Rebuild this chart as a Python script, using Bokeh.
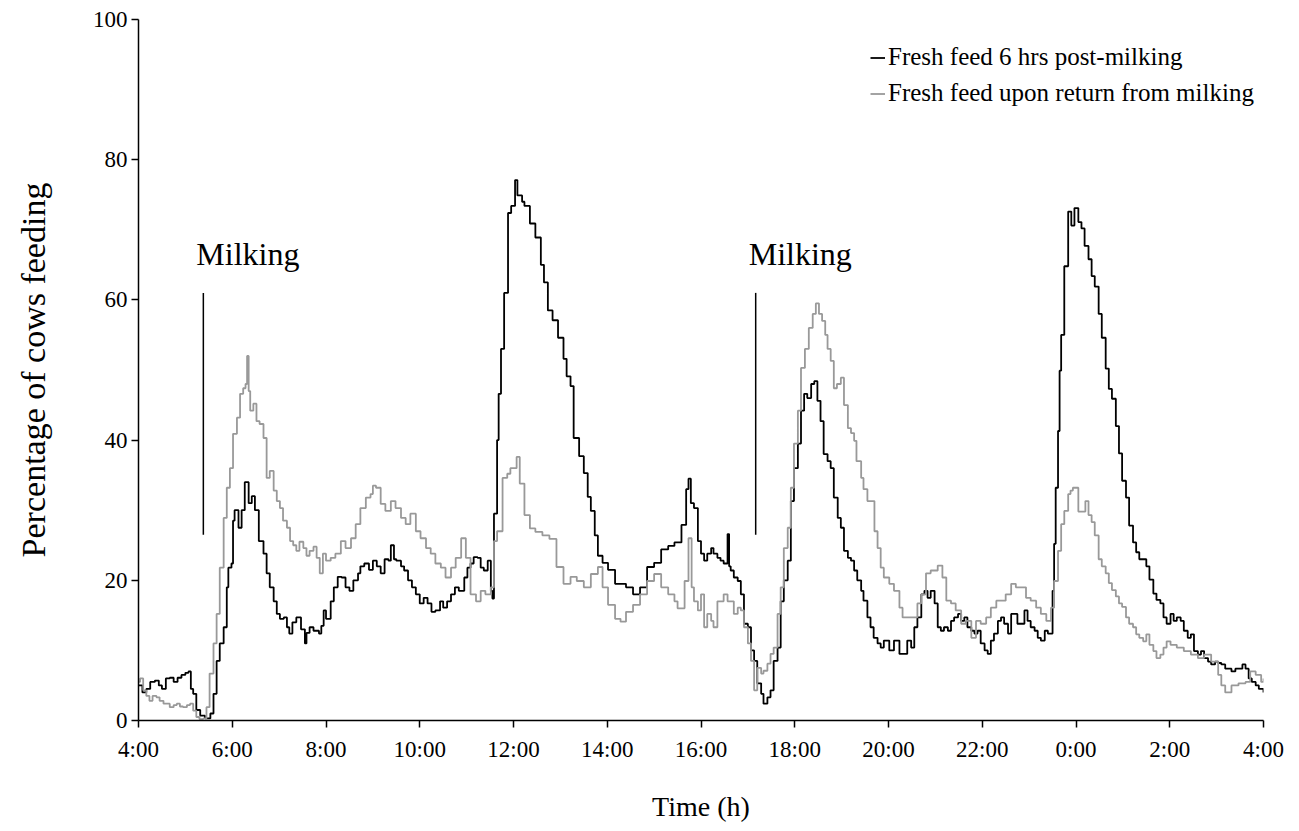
from bokeh.plotting import figure
from bokeh.models import Range1d, FixedTicker, Legend, LegendItem
from bokeh.embed import file_html
from bokeh.resources import INLINE
from bokeh.core.properties import value

FONT = "Liberation Serif"

# minutes after 4:00, percentage of cows feeding
black_min = [0, 5, 10, 15, 21, 26, 30, 35, 40, 45, 50, 55, 60, 64, 67, 70, 74, 79, 85, 90, 92, 96, 100, 104, 109, 113, 115, 119, 121, 123, 128, 132, 136, 141, 145, 149, 154, 160, 164, 168, 173, 177, 181, 186, 190, 193, 197, 202, 208, 213, 215, 219, 224, 231, 234, 237, 240, 246, 250, 255, 260, 265, 270, 275, 281, 284, 289, 295, 300, 305, 310, 315, 320, 323, 327, 330, 336, 340, 345, 350, 355, 360, 365, 370, 375, 380, 386, 390, 395, 400, 405, 410, 417, 421, 425, 429, 434, 438, 442, 447, 451, 453, 455, 459, 461, 464, 468, 473, 477, 482, 485, 491, 494, 501, 508, 515, 519, 524, 530, 537, 544, 548, 553, 557, 564, 570, 575, 579, 584, 588, 594, 601, 610, 617, 624, 633, 642, 651, 660, 669, 678, 686, 695, 701, 704, 707, 711, 716, 720, 724, 728, 733, 736, 741, 745, 749, 754, 756, 758, 762, 767, 771, 775, 780, 784, 788, 792, 797, 800, 805, 809, 813, 818, 822, 826, 831, 835, 839, 844, 848, 852, 856, 861, 865, 869, 873, 877, 882, 886, 890, 895, 899, 903, 908, 912, 916, 920, 925, 928, 933, 937, 941, 946, 950, 954, 961, 967, 974, 980, 984, 989, 993, 997, 1002, 1006, 1010, 1014, 1019, 1023, 1027, 1031, 1036, 1040, 1044, 1049, 1053, 1057, 1061, 1066, 1070, 1074, 1078, 1083, 1087, 1091, 1095, 1100, 1104, 1108, 1113, 1117, 1121, 1125, 1130, 1134, 1138, 1142, 1147, 1151, 1155, 1160, 1164, 1168, 1170, 1172, 1174, 1177, 1179, 1181, 1185, 1190, 1194, 1198, 1203, 1207, 1211, 1216, 1220, 1224, 1229, 1233, 1238, 1242, 1246, 1251, 1255, 1259, 1264, 1268, 1273, 1277, 1281, 1286, 1290, 1294, 1299, 1303, 1308, 1312, 1316, 1321, 1325, 1329, 1334, 1338, 1343, 1347, 1351, 1356, 1360, 1364, 1369, 1373, 1378, 1382, 1386, 1391, 1395, 1399, 1404, 1408, 1413, 1417, 1421, 1425, 1430, 1434, 1440]
black_pct = [5, 4, 4.5, 5.5, 5.7, 5, 4.5, 6, 6.1, 5.5, 6.1, 6.5, 6.8, 7, 4.5, 3.8, 1.5, 0.7, 0.3, 0.3, 1, 3.8, 8.5, 11, 13.3, 19, 21.8, 22.4, 28.5, 30, 27.5, 30, 34, 31, 32, 30, 25.6, 23.8, 21, 19, 17, 15.2, 14.5, 14.7, 13.3, 12.4, 14, 14.7, 13, 11, 12.5, 13.3, 12.8, 12.4, 13.5, 15.7, 14.5, 17, 19, 20.5, 20.4, 19, 18.5, 20, 21, 22, 22.4, 21.5, 22.8, 22, 21, 23, 22.8, 25, 23, 22.8, 22, 21.4, 20, 19, 18, 16.7, 17.5, 16.7, 15.5, 15.7, 17, 16.1, 17, 18, 19, 18.5, 20.4, 21.8, 22.4, 23.3, 23.2, 21.8, 21.4, 22.8, 18.5, 17.4, 29.5, 40, 46.6, 53, 61, 72.4, 73.4, 77.1, 74.9, 74, 73.4, 70.9, 68.9, 65, 62.5, 58.5, 57.1, 54.6, 51.6, 49.1, 47.7, 40.3, 37.7, 35.3, 31.9, 29.9, 26.4, 23.5, 22.5, 21.5, 19.5, 19.5, 19, 18, 19, 21.9, 22.5, 24.4, 24.9, 25.4, 27.9, 33, 34.5, 31, 30.3, 25.6, 23.8, 22.8, 23.8, 24.6, 23.8, 23.2, 22.8, 22.4, 26.6, 22, 21.4, 20.4, 19.9, 18, 13.8, 13.3, 10, 8.5, 5.3, 3.8, 2.4, 3.3, 4.3, 8.5, 10.4, 17, 20, 22.8, 31.3, 36, 39.5, 44.2, 46.6, 46, 48, 48.4, 45.6, 42.7, 38, 37, 36, 31.8, 28.9, 27.5, 24.2, 23.2, 22.8, 21.4, 20, 18.5, 17.1, 14.7, 13.3, 11.8, 11, 10.4, 11.4, 10, 11.4, 9.5, 9.5, 11.4, 10.4, 13.3, 14.7, 18, 18.5, 17.5, 18.5, 16.7, 13.3, 12.8, 13.3, 12.8, 14.2, 14.7, 15.2, 14.2, 14.7, 13.3, 12.8, 12.4, 12.8, 11, 10, 9.5, 11.4, 12.4, 14.2, 14.7, 13.8, 12.4, 15.2, 15.2, 13.8, 13.8, 15.7, 14.2, 13.3, 12.8, 11.8, 11.4, 12.8, 12.4, 12.4, 18.5, 25.2, 33.2, 41.3, 49.9, 55, 64.8, 72.6, 70.6, 73.1, 71.1, 70.2, 67.7, 65.8, 63.4, 61.9, 58, 54.6, 50.2, 47.3, 45.9, 42, 38.1, 34.2, 31.8, 27.8, 25.4, 24, 23, 23, 22, 20.1, 18.1, 17.2, 16.7, 14.7, 13.8, 15.2, 14.2, 14.7, 14.2, 12.8, 11.8, 12.3, 9.9, 9.4, 9.9, 8.9, 8.4, 8, 8.4, 8.2, 8, 7.4, 7.4, 7, 7.4, 7.4, 8, 7.4, 6, 5.5, 5, 4.5, 4]

gray_min = [0, 2, 6, 10, 14, 18, 23, 27, 32, 36, 40, 45, 49, 53, 57, 62, 66, 70, 74, 78, 83, 87, 91, 96, 100, 104, 109, 113, 117, 121, 126, 130, 134, 137, 139, 141, 143, 147, 151, 155, 160, 164, 168, 173, 177, 181, 185, 190, 194, 198, 202, 206, 211, 215, 219, 224, 228, 232, 236, 240, 246, 252, 259, 265, 272, 278, 284, 291, 297, 300, 304, 310, 316, 323, 329, 336, 342, 348, 355, 361, 368, 374, 380, 387, 393, 400, 406, 413, 419, 425, 432, 438, 444, 451, 455, 459, 466, 472, 476, 484, 488, 494, 501, 508, 517, 526, 535, 544, 553, 561, 570, 579, 588, 594, 601, 610, 617, 624, 633, 642, 651, 660, 669, 678, 686, 690, 699, 704, 708, 711, 716, 720, 724, 728, 733, 736, 741, 745, 749, 754, 758, 762, 767, 771, 775, 780, 784, 788, 792, 797, 800, 805, 809, 813, 818, 822, 826, 831, 835, 839, 844, 848, 853, 858, 863, 867, 871, 875, 879, 882, 886, 890, 894, 899, 903, 908, 912, 916, 919, 925, 928, 933, 937, 942, 946, 950, 954, 961, 967, 974, 978, 984, 991, 997, 1002, 1008, 1014, 1023, 1029, 1034, 1040, 1046, 1053, 1059, 1066, 1072, 1078, 1085, 1091, 1098, 1104, 1110, 1117, 1123, 1130, 1136, 1142, 1149, 1155, 1162, 1168, 1172, 1177, 1181, 1185, 1190, 1193, 1196, 1203, 1212, 1216, 1220, 1224, 1229, 1233, 1238, 1242, 1246, 1251, 1255, 1259, 1264, 1268, 1273, 1277, 1281, 1286, 1290, 1294, 1299, 1303, 1308, 1312, 1316, 1321, 1329, 1338, 1347, 1356, 1364, 1373, 1382, 1386, 1391, 1395, 1399, 1408, 1417, 1423, 1430, 1437, 1440]
gray_pct = [5.5, 6, 4.3, 3.5, 2.8, 3.5, 3.3, 2.8, 2.4, 2.4, 1.9, 2.2, 2.4, 2, 1.9, 2.2, 2.4, 1.4, 0.5, 0.2, 0.3, 1.9, 6.7, 11, 15.2, 21.8, 28.9, 33.2, 36, 40.9, 43.2, 46.6, 47.4, 48, 52, 47, 44.2, 45.2, 42.7, 42.3, 40.3, 34.6, 35.6, 32.8, 31.3, 30.3, 28.5, 27.5, 25.6, 25, 24.2, 25.5, 24.6, 23.5, 24.2, 24.8, 23.2, 21, 23.8, 22.8, 23.2, 23.8, 25.6, 24.6, 26, 28, 30.3, 31.8, 32.3, 33.5, 33.2, 30.9, 29.9, 31.3, 30.3, 28.9, 28, 29.5, 27, 26, 24.6, 23.8, 22.4, 21.8, 20.4, 21.8, 23.2, 26, 23.2, 18, 17, 18.5, 18, 19, 25.6, 27, 34.6, 35.2, 36, 37.6, 33.8, 29.3, 27.4, 26.9, 26.4, 25.9, 21.9, 19.5, 20.5, 19.9, 19, 20.9, 21.9, 19, 16.5, 14.5, 14.1, 15.5, 16.5, 18, 19.9, 20.9, 19, 18, 17, 16, 19.9, 26, 19, 17, 15.7, 18, 13.3, 15.2, 14.2, 13.3, 17, 17, 18, 17, 17, 15.2, 16.1, 15.7, 13.3, 11, 8.5, 4.3, 7.5, 6.7, 7.1, 8.1, 9.5, 10.4, 15.2, 19, 24.6, 27.5, 33.2, 39.5, 44.2, 50.3, 53, 56, 58, 59.5, 58, 57, 55, 53, 51.3, 47.4, 48, 48.9, 45, 41.7, 41, 39.9, 37, 34.6, 33, 31.3, 31.3, 27, 24.6, 21.8, 20.4, 19.5, 18.5, 16.1, 14.7, 14.7, 14.7, 16.7, 18, 21, 21.4, 22.1, 20.4, 17.1, 16.7, 15.7, 13.8, 14.2, 11.8, 14.2, 13.8, 14.7, 16.1, 17.1, 17.1, 18, 19.5, 19, 19, 17.5, 17.1, 16.1, 15.2, 14.2, 16.1, 19.9, 24.2, 28, 29.9, 32.3, 32.8, 33.2, 29.8, 31.3, 29.3, 28.3, 26.4, 23, 22, 21, 19.6, 18.6, 17.7, 16.7, 16.2, 14.7, 13.8, 13.3, 12.3, 11.8, 11.3, 12.3, 10.8, 9.9, 8.9, 9.4, 10.4, 11.3, 10.8, 10.4, 9.9, 9.4, 8.9, 9.4, 8.4, 6.5, 5, 4, 4, 5, 5.3, 5.5, 7, 6.5, 5.5, 6]

series_names = ["Fresh feed 6 hrs post-milking", "Fresh feed upon return from milking"]

# milking events (minutes after 4:00) and the marker extent (%)
milking_min = [83, 790]
milking_low = 26.5
milking_high = 61
milking_text_y = 66.5
milking_text = ["Milking", "Milking"]

tick_hours = [4, 6, 8, 10, 12, 14, 16, 18, 20, 22, 24, 26, 28]
tick_labels = ["4:00", "6:00", "8:00", "10:00", "12:00", "14:00", "16:00", "18:00",
               "20:00", "22:00", "0:00", "2:00", "4:00"]
y_ticks = [0, 20, 40, 60, 80, 100]

bx = [4 + m / 60 for m in black_min]
gx = [4 + m / 60 for m in gray_min]
mx = [4 + m / 60 for m in milking_min]

W, H = 1295, 829
p = figure(width=W, height=H, x_range=Range1d(4, 28), y_range=Range1d(0, 100),
           output_backend="svg", toolbar_location=None,
           min_border_left=138, min_border_right=W - 1263, min_border_top=19,
           min_border_bottom=H - 720)
p.outline_line_color = None
p.grid.visible = False
p.background_fill_color = "white"

r_black = p.step(bx, black_pct, mode="after", line_color="black", line_width=1.8)
r_gray = p.step(gx, gray_pct, mode="after", line_color="#999999", line_width=1.8)

p.segment(x0=mx, y0=[milking_low] * 2, x1=mx, y1=[milking_high] * 2,
          line_color="black", line_width=1.5)
p.text(x=mx, y=[milking_text_y] * 2, text=milking_text, x_offset=-7,
       text_font=value(FONT), text_font_size="32px", text_baseline="alphabetic",
       text_color="black")

for ax in (p.xaxis[0], p.yaxis[0]):
    ax.axis_line_color = "black"
    ax.axis_line_width = 1.5
    ax.major_tick_line_color = "black"
    ax.major_tick_line_width = 1.5
    ax.major_tick_in = 0
    ax.major_tick_out = 7
    ax.minor_tick_line_color = None
    ax.major_label_text_font = FONT
    ax.major_label_text_font_size = "23px"
    ax.major_label_text_color = "black"
    ax.axis_label_text_font = FONT
    ax.axis_label_text_font_style = "normal"
    ax.axis_label_text_color = "black"

p.xaxis.ticker = FixedTicker(ticks=tick_hours)
p.xaxis.major_label_overrides = {h: l for h, l in zip(tick_hours, tick_labels)}
p.xaxis.major_label_standoff = 9
p.xaxis.axis_label = "Time (h)"
p.xaxis.axis_label_text_font_size = "28px"
p.xaxis.axis_label_standoff = 26

p.yaxis.ticker = FixedTicker(ticks=y_ticks)
p.yaxis.major_label_standoff = 4
p.yaxis.axis_label = "Percentage of cows feeding"
p.yaxis.axis_label_text_font_size = "34px"
p.yaxis.axis_label_standoff = 38

legend = Legend(items=[LegendItem(label=series_names[0], renderers=[r_black]),
                       LegendItem(label=series_names[1], renderers=[r_gray])],
                location=(732, 613), border_line_color=None, background_fill_alpha=0,
                glyph_width=15, glyph_height=25, label_height=25, spacing=8,
                padding=0, margin=0, label_standoff=3,
                label_text_font=FONT, label_text_font_size="25px", label_text_color="black")
p.add_layout(legend)

open("out.html", "w").write(file_html(p, INLINE))
